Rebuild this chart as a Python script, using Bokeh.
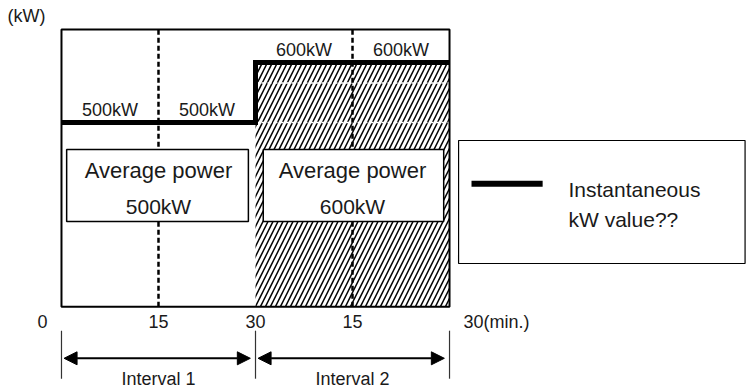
from bokeh.plotting import figure
from bokeh.models import Range1d, Arrow, NormalHead
from bokeh.core.properties import value
from bokeh.embed import file_html
from bokeh.resources import INLINE

# ---- data ----
interval_start = [0, 30]
interval_end = [30, 60]
interval_mid = [15, 45]
avg_power = [500, 600]
avg_labels = ["500kW", "600kW"]
interval_labels = ["Interval 1", "Interval 2"]

quarter_mid = [7.5, 22.5, 37.5, 52.5]
quarter_power = [500, 500, 600, 600]
quarter_labels = ["500kW", "500kW", "600kW", "600kW"]

step_minutes = [0, 30, 60]
step_power = [500, 600, 600]

tick_minutes = [0, 15, 30, 45, 60]
tick_labels = ["0", "15", "30", "15", "30(min.)"]
quarter_lines = [15, 45]

# ---- layout (data units: minutes / kW) ----
FRAME_BOTTOM, FRAME_TOP = 193, 655
FONT = value("Liberation Sans")
TXT = "#1a1a1a"

p = figure(width=748, height=389, output_backend="svg", toolbar_location=None,
           x_range=Range1d(-9.43, 106.23), y_range=Range1d(55, 703.3),
           min_border=0, outline_line_color=None)
p.axis.visible = False
p.grid.visible = False
p.background_fill_color = "white"

# hatched area of interval 2
p.quad(left=[interval_start[1]], right=[interval_end[1]], bottom=[FRAME_BOTTOM],
       top=[avg_power[1]], fill_color=None, line_color=None,
       hatch_pattern="/", hatch_scale=10, hatch_weight=1.5, hatch_color="black")
# faint white dashes in hatch
p.multi_line(xs=[[30, 60], [30, 60]], ys=[[500, 500], [566, 566]],
             line_color="white", line_width=1.5, line_dash="4 2")

# dotted quarter lines
for q in quarter_lines:
    p.line([q, q], [FRAME_BOTTOM, FRAME_TOP], line_color="black",
           line_width=2.5, line_dash="5 3")

# frame
p.quad(left=[0], right=[60], bottom=[FRAME_BOTTOM], top=[FRAME_TOP],
       fill_color=None, line_color="black", line_width=2)

# instantaneous step line
p.step(step_minutes, step_power, mode="after", line_color="black",
       line_width=5, line_join="miter")

# quarter labels
p.text(x=quarter_mid, y=[v + 20 for v in quarter_power], text=quarter_labels,
       text_align="center", text_baseline="middle", text_font=FONT,
       text_font_size="18px", text_color=TXT)

# average power boxes
p.quad(left=[0.8, 31.2], right=[28.9, 59.1], bottom=[335, 335], top=[455, 455],
       fill_color="white", line_color="black", line_width=1.5)
p.text(x=interval_mid, y=[420, 420], text=["Average power"] * 2,
       text_align="center", text_baseline="middle", text_font=FONT,
       text_font_size="22px", text_color=TXT)
p.text(x=interval_mid, y=[360, 360], text=avg_labels,
       text_align="center", text_baseline="middle", text_font=FONT,
       text_font_size="21px", text_color=TXT)

# legend box
p.quad(left=[61.4], right=[105.7], bottom=[265], top=[470],
       fill_color="white", line_color="black", line_width=1.2)
p.line([63.4, 74.4], [398, 398], line_color="black", line_width=6)
p.text(x=[78.4, 78.4], y=[389, 337.5], text=["Instantaneous", "kW value??"],
       text_align="left", text_baseline="middle", text_font=FONT,
       text_font_size="21px", text_color=TXT)

# unit label
p.text(x=[-8.35], y=[677.5], text=["(kW)"], text_align="left",
       text_baseline="middle", text_font=FONT, text_font_size="18px",
       text_color=TXT)

# tick labels
p.text(x=tick_minutes[1:4], y=[168] * 3, text=tick_labels[1:4],
       text_align="center", text_baseline="middle", text_font=FONT,
       text_font_size="18px", text_color=TXT)
p.text(x=[tick_minutes[0]], y=[168], text=[tick_labels[0]], x_offset=-14,
       text_align="right", text_baseline="middle", text_font=FONT,
       text_font_size="18px", text_color=TXT)
p.text(x=[tick_minutes[4]], y=[168], text=[tick_labels[4]], x_offset=14,
       text_align="left", text_baseline="middle", text_font=FONT,
       text_font_size="18px", text_color=TXT)

# interval dimension marks
bounds = [interval_start[0], interval_end[0], interval_end[1]]
p.multi_line(xs=[[b, b] for b in bounds], ys=[[73, 153]] * 3,
             line_color="#333333", line_width=1.2)
for s, e in zip(interval_start, interval_end):
    p.add_layout(Arrow(x_start=s + 0.4, x_end=e - 0.8, y_start=107, y_end=107,
                       line_color="black", line_width=2,
                       start=NormalHead(size=13, fill_color="black", line_color="black"),
                       end=NormalHead(size=13, fill_color="black", line_color="black")))
p.text(x=interval_mid, y=[72.5, 72.5], text=interval_labels,
       text_align="center", text_baseline="middle", text_font=FONT,
       text_font_size="18px", text_color=TXT)

open("out.html", "w").write(file_html(p, INLINE))
